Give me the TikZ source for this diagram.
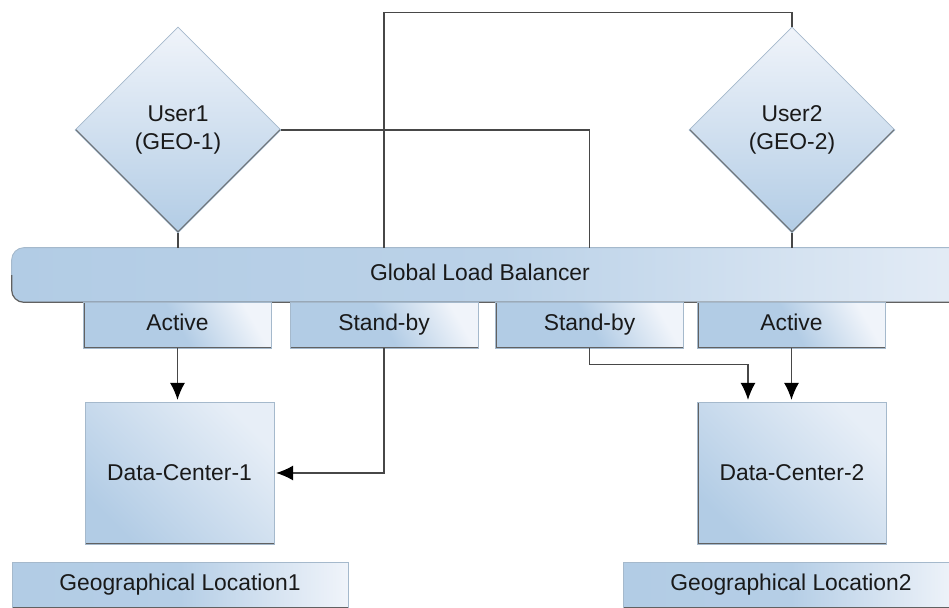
\documentclass[tikz,border=0pt]{standalone}
\usepackage{fontspec}
\setmainfont{Liberation Sans}
\usepackage{tikz}
\usetikzlibrary{shapes.geometric,arrows.meta,backgrounds}
\definecolor{geoblue}{RGB}{178,204,229}
\definecolor{geolight}{RGB}{240,244,250}
\colorlet{rimblue}{geoblue!75!gray}
\colorlet{edgegray}{black!62}
\colorlet{wiregray}{black!72}

\tikzset{
  darkedges/.style={path picture={\draw[edgegray,line width=1.3pt]
      (path picture bounding box.north west) -- (path picture bounding box.south west)
      -- (path picture bounding box.south east);}},
  userdiamond/.style={diamond, draw=rimblue, line width=0.4pt, top color=geolight,
      bottom color=geoblue, minimum width=4.12cm, minimum height=4.12cm, inner sep=0pt,
      align=center, path picture={\draw[edgegray,line width=1.3pt]
      (path picture bounding box.west) -- (path picture bounding box.south)
      -- (path picture bounding box.east);}},
  tab/.style={draw=rimblue, line width=0.4pt, darkedges, top color=geolight,
      bottom color=geoblue, middle color=geoblue, shading angle=-60,
      minimum width=3.76cm, minimum height=0.92cm, inner sep=0pt,
      text height=9.5pt, text depth=3pt},
  dcbox/.style={draw=rimblue, line width=0.4pt, darkedges, top color=geolight!85!geoblue,
      bottom color=geoblue, shading angle=-45,
      minimum width=3.78cm, minimum height=2.84cm, inner sep=0pt},
  locbox/.style={draw=rimblue, line width=0.4pt, darkedges, left color=geoblue,
      right color=geolight, middle color=geoblue!95!geolight,
      minimum width=6.72cm, minimum height=0.92cm, inner sep=0pt,
      text height=9.5pt, text depth=3pt},
  wire/.style={draw=wiregray, line width=0.8pt},
  arr/.style={wire, -{Latex[length=3.4mm,width=3mm,color=black]}, shorten >=1pt}
}

\begin{document}
\begin{tikzpicture}[every node/.style={font=\fontsize{13}{15.5}\selectfont, text=black!90}]
\useasboundingbox (0,0) rectangle (18.98,12.14);
\clip (0,0) rectangle (18.98,12.14);

% users
\node[userdiamond] (user1) at (3.56,9.54) {User1\\(GEO-1)};
\node[userdiamond] (user2) at (15.84,9.54) {User2\\(GEO-2)};
\coordinate (top) at (0,11.89);

% balancer
\node[minimum width=18.72cm, minimum height=1.08cm, inner sep=0pt,
  text height=9.5pt, text depth=3pt] (glb) at (9.6,6.64) {Global Load Balancer};
\begin{scope}[on background layer]
  \shade[left color=geoblue, right color=geolight!85!geoblue, middle color=geoblue!85!geolight,
    rounded corners=7pt] (glb.north west) rectangle ([xshift=1cm]glb.south east);
  \draw[rimblue, line width=0.5pt, rounded corners=7pt]
    (glb.west) -- (glb.north west) -- ([xshift=1cm]glb.north east);
  \draw[edgegray, line width=0.7pt, rounded corners=7pt]
    ([xshift=1cm]glb.south east) -- (glb.south west) -- (glb.west);
\end{scope}

\node[tab] (act1) at (3.55,5.64) {Active};
\node[tab] (sb1) at (7.68,5.64) {Stand-by};
\node[tab] (sb2) at (11.79,5.64) {Stand-by};
\node[tab] (act2) at (15.83,5.64) {Active};

% data centers
\node[dcbox] (dc1) at (3.59,2.68) {Data-Center-1};
\node[dcbox] (dc2) at (15.84,2.68) {Data-Center-2};

\node[locbox] (loc1) at (3.6,0.44) {Geographical Location1};
\node[locbox] (loc2) at (15.82,0.44) {Geographical Location2};

\draw[wire] (user1.south) -- (user1.south |- glb.north);
\draw[wire] (user2.south) -- (user2.south |- glb.north);
\draw[wire] (user1.east) -| (sb2.north |- glb.north);
\draw[wire] (user2.north) |- (top -| sb1.north) -- (sb1.north |- glb.north);

\draw[arr] (act1.south) -- (act1.south |- dc1.north);
\draw[arr] (sb1.south) |- (dc1.east);
\draw[arr] (sb2.south) -- ++(0,-0.32) -| ([xshift=-0.88cm]dc2.north);
\draw[arr] (act2.south) -- (act2.south |- dc2.north);
%\draw[arr] (sb2.south) |- (dc2.west);

\end{tikzpicture}
\end{document}
